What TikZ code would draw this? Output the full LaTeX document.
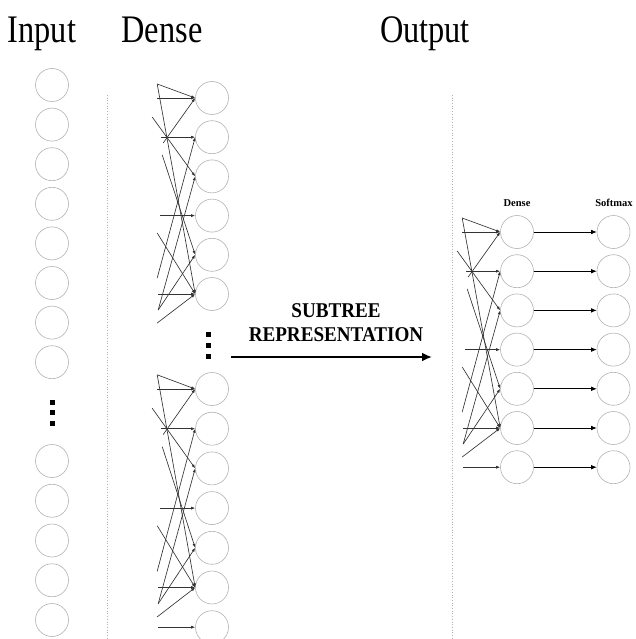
\documentclass[tikz,border=0pt]{standalone}
\usepackage{fontspec}
\setmainfont{Liberation Serif}
\usetikzlibrary{arrows.meta, calc, positioning}

\tikzset{
	neuron/.style={draw=gray!60, circle, minimum size=33pt, inner sep=0pt, line width=0.6pt},
	link/.style={draw=black!80, line width=0.65pt, -{Latex[length=4pt, width=3pt]}},
	outlink/.style={draw=black, line width=0.7pt, -{Latex[length=5.5pt, width=4.5pt]}},
	bigarrow/.style={draw=black, line width=2.2pt, -{Latex[length=10pt, width=9pt]}},
	sepline/.style={draw=gray!60, dotted, line width=0.7pt},
	dotbox/.style={fill=black, minimum size=5pt, inner sep=0pt},
	title/.style={font=\fontsize{39}{39}\selectfont, xscale=0.83, anchor=base, inner sep=0pt},
	sublabel/.style={font=\fontsize{10.5}{10.5}\selectfont\bfseries, anchor=base, inner sep=0pt}
}

% tangle of links in front of a dense column: #1 = prefix, #2 = spacing
\newcommand{\tangle}[2]{%
	\foreach \dx/\f/\k [count=\i] in {-38/0/1, -38/-0.357/1, -38/-0.357/6, -32/1.148/1,
		-34/1/2, -43/0.485/3, -33/1.454/5, -35/3/4, -38/3.444/6, -38/4.592/2,
		-37/5.408/3, -37/5.408/5, -37/5/6, -38/5.74/6}{
		\coordinate (#1-s\i) at ($(#1-1.west)+(\dx,{\f*#2})$);
		\draw [link] (#1-s\i) -- (#1-\k.west);
	}
}

\begin{document}
\begin{tikzpicture}[x=1pt, y=-1pt]
	\useasboundingbox (0,0) rectangle (635,639);
	
	% Titles
	\node [title] (tInput) at (42,43) {Input};
	\node [title] (tDense) at (162,43) {Dense};
	\node [title] (tOutput) at (425,43) {Output};
	
	% Input column
	\foreach \i in {1,...,8}
		\node [neuron] (in-\i) at (52,{85+(\i-1)*39.6}) {};
	\foreach \i in {1,...,5}
		\node [neuron] (inb-\i) at (52,{461+(\i-1)*39.75}) {};
	\foreach \y [count=\i] in {402,412.5,423}
		\node [dotbox] (indot-\i) at (52,\y) {};
	
	% Separators
	\coordinate (sepA-top) at (107,95);
	\coordinate (sepA-bot) at (107,639);
	\coordinate (sepB-top) at (452,95);
	\coordinate (sepB-bot) at (452,639);
	\draw [sepline] (sepA-top) -- (sepA-bot);
	\draw [sepline] (sepB-top) -- (sepB-bot);
	
	% Dense columns
	\foreach \i in {1,...,6}
		\node [neuron] (dA-\i) at (212,{98+(\i-1)*39.2}) {};
	\foreach \i in {1,...,7}
		\node [neuron] (dB-\i) at (212,{389+(\i-1)*39.7}) {};
	\foreach \y [count=\i] in {334,345,356}
		\node [dotbox] (ddot-\i) at (208,\y) {};
	\tangle{dA}{39.2}
	\tangle{dB}{39.7}
	\coordinate (dB-s15) at ($(dB-7.west)+(-37,0)$);
	\draw [link] (dB-s15) -- (dB-7.west);
	
	% Subtree arrow
	\node [font=\fontsize{21}{24}\selectfont\bfseries, align=center, xscale=0.91, anchor=south, inner sep=0pt] (subtree) at (336,342) {SUBTREE\\REPRESENTATION};
	\coordinate (arr-start) at (231,357);
	\coordinate (arr-end) at (432,357);
	\draw [bigarrow] (arr-start) -- (arr-end);
	
	% Output columns
	\foreach \i in {1,...,7} {
		\node [neuron] (out-\i) at (517,{232+(\i-1)*39.2}) {};
		\node [neuron] (soft-\i) at (613.5,{232+(\i-1)*39.2}) {};
		\draw [outlink] (out-\i) -- (soft-\i);
	}
	\tangle{out}{39.2}
	\coordinate (out-s15) at ($(out-7.west)+(-37,0)$);
	\draw [link] (out-s15) -- (out-7.west);
	\node [sublabel] (lDense) at (517,206) {Dense};
	\node [sublabel] (lSoftmax) at (614,206) {Softmax};
	
\end{tikzpicture}
\end{document}
